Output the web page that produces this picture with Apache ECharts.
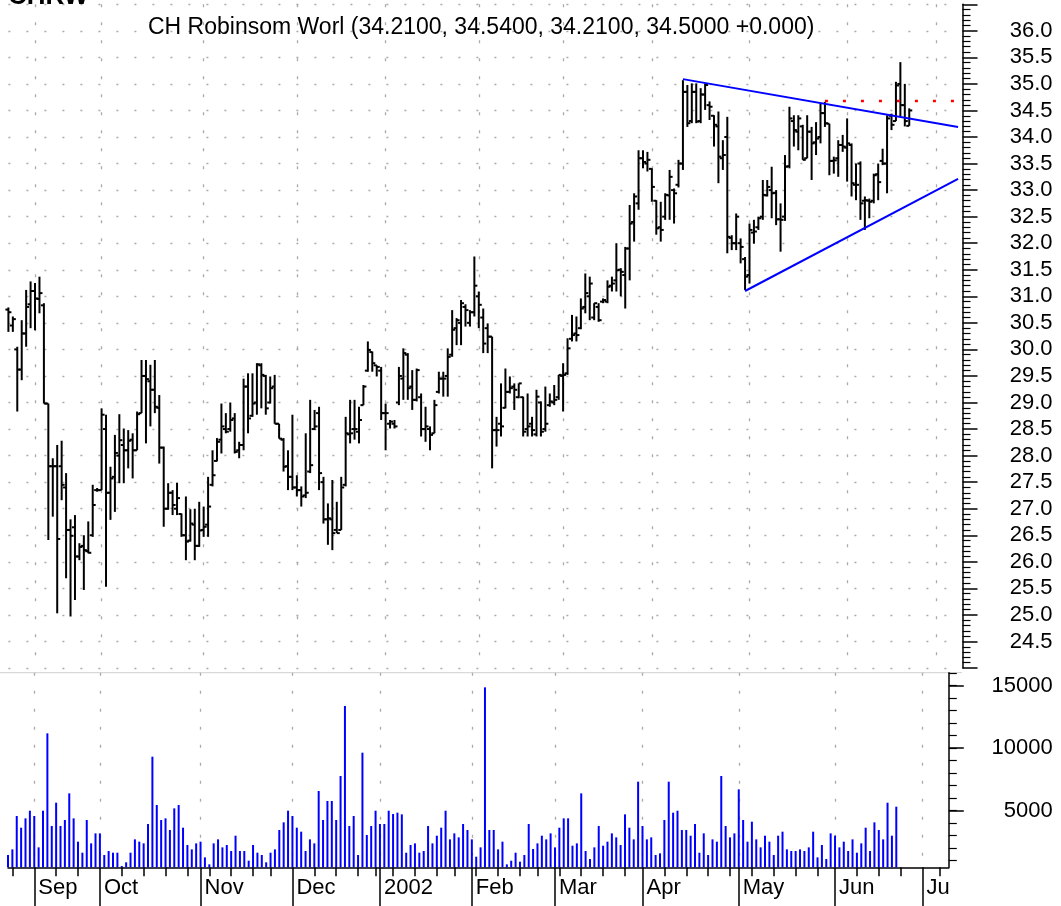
<!DOCTYPE html>
<html>
<head>
<meta charset="utf-8">
<title>CHRW</title>
<script src="https://cdn.jsdelivr.net/npm/echarts@6/dist/echarts.min.js"></script>
<style>
html, body { margin: 0; padding: 0; background: #fff; }
#chart { width: 1061px; height: 906px; }
</style>
</head>
<body>
<div id="chart"></div>
<script>
// daily bars, 24 Aug 2001 .. 21 Jun 2002
var open = [30.75,30.45,30.00,29.62,30.30,30.85,31.10,30.95,30.83,28.98,27.80,27.80,27.80,27.40,26.60,26.65,26.10,26.30,26.20,26.50,
  27.35,27.35,28.50,27.30,27.60,28.00,28.20,28.10,28.30,28.10,28.80,29.50,29.40,29.24,28.90,28.15,27.00,27.30,27.00,26.90,
  26.50,26.40,26.70,26.30,26.60,26.70,27.45,27.90,28.30,28.50,28.50,28.70,28.10,28.20,29.30,28.75,29.00,29.70,29.50,29.00,
  29.30,28.60,28.30,27.80,27.60,27.40,27.35,27.25,27.70,28.50,28.80,27.50,26.80,26.80,26.60,26.60,27.45,28.40,28.50,28.45,
  28.95,29.60,29.95,29.70,29.60,28.80,28.60,28.60,29.00,29.45,29.90,29.30,29.05,29.10,28.50,28.50,28.42,29.20,29.45,29.50,
  29.90,30.40,30.50,30.80,30.50,30.70,31.00,30.60,30.40,30.24,28.48,28.60,28.90,29.20,29.30,29.10,29.10,28.50,28.60,28.40,
  29.00,28.50,28.95,29.00,29.10,29.50,29.55,30.20,30.30,30.40,30.80,31.00,30.60,30.80,30.90,30.90,31.20,31.30,31.50,31.40,
  31.90,32.40,32.75,33.60,33.50,33.40,32.80,32.30,32.50,32.90,33.00,33.10,33.50,34.85,34.30,34.85,34.30,34.80,34.60,34.40,
  34.20,33.60,34.00,32.10,32.00,32.00,31.70,31.40,32.20,32.30,32.50,32.90,33.00,32.95,32.45,32.50,33.45,34.30,34.10,34.20,
  33.60,34.10,33.90,34.00,34.45,34.25,33.55,33.60,33.85,33.80,33.85,33.10,33.50,32.80,32.80,32.80,33.30,33.55,33.50,34.40,
  34.30,35.00,34.60,34.21];
var high = [30.79,30.62,30.05,30.55,31.12,31.28,31.25,31.37,30.87,28.98,27.95,28.20,28.28,27.67,26.80,26.88,26.35,26.50,26.76,27.45,
  27.39,28.89,28.77,27.79,28.39,28.78,28.51,28.48,28.42,28.83,29.80,29.80,29.71,29.80,29.14,28.17,27.48,27.35,27.49,26.91,
  27.23,26.99,27.00,27.13,27.04,27.60,28.10,28.33,28.98,28.80,29.00,28.80,28.26,29.45,29.55,29.55,29.74,29.74,29.52,29.49,
  29.52,28.60,28.33,28.10,28.77,27.63,27.42,28.42,29.05,28.86,28.92,27.60,27.10,27.54,27.13,27.60,28.73,29.05,29.05,28.92,
  29.33,30.15,29.96,29.70,29.67,28.98,28.67,28.67,29.67,30.02,29.93,29.61,29.64,29.17,28.92,28.55,29.05,29.58,29.58,30.02,
  30.74,30.59,30.93,30.85,30.74,31.75,31.09,30.77,30.49,30.24,28.73,29.36,29.64,29.49,29.36,29.36,29.11,29.17,28.73,29.24,
  29.02,29.30,29.17,29.33,29.52,29.74,30.21,30.65,30.62,30.96,31.43,31.37,30.87,30.87,30.96,31.30,31.37,32.00,31.53,31.93,
  32.72,32.94,33.75,33.75,33.72,33.41,32.81,32.78,32.94,33.38,33.03,33.57,35.07,34.98,35.01,35.01,34.92,35.01,34.67,34.41,
  34.48,33.94,34.38,32.15,32.56,32.09,31.74,32.37,32.44,32.50,33.19,33.19,33.44,33.00,32.75,33.66,34.57,34.41,34.41,34.23,
  34.41,34.19,34.28,34.63,34.66,34.25,33.63,33.94,34.04,34.35,33.88,33.50,33.54,32.88,32.84,33.31,33.50,33.78,34.41,34.44,
  35.04,35.41,35.00,34.54];
var low = [30.33,30.33,28.83,29.42,30.05,30.40,30.36,30.68,28.98,26.41,26.85,25.03,27.16,25.69,24.97,25.28,26.03,25.47,26.16,26.47,
  27.32,27.35,25.53,26.79,26.94,27.48,27.48,27.76,27.57,28.10,28.80,28.23,28.55,28.80,27.85,26.66,26.98,26.88,26.88,26.47,
  26.03,26.38,26.03,26.28,26.47,26.47,27.42,27.89,28.04,28.42,28.45,28.04,27.95,28.10,28.42,28.73,28.77,28.89,28.77,28.98,
  28.60,28.32,27.70,27.35,27.35,27.23,27.04,27.20,27.67,28.48,27.35,26.72,26.32,26.22,26.54,26.60,27.42,28.23,28.30,28.23,
  28.95,29.58,29.58,29.49,28.67,28.10,28.51,28.51,28.95,29.05,29.05,28.86,29.02,28.36,28.26,28.10,28.42,29.17,29.11,29.11,
  29.86,30.08,30.08,30.43,30.43,30.62,30.40,29.93,29.93,27.76,28.17,28.36,28.89,29.17,28.86,29.08,28.36,28.36,28.36,28.36,
  28.36,28.45,28.92,28.95,29.05,28.83,29.52,30.15,30.15,30.38,30.68,30.55,30.55,30.52,30.87,30.87,31.09,31.09,31.00,30.77,
  31.30,32.03,32.63,33.41,33.35,32.78,32.16,32.03,32.44,32.44,32.37,33.05,33.38,34.19,34.26,34.26,34.26,34.51,34.32,33.82,
  33.13,33.38,31.81,31.87,31.87,31.62,31.12,31.24,31.99,32.25,32.44,32.88,32.47,32.34,31.84,32.42,33.41,33.82,33.75,33.57,
  33.60,33.19,33.66,33.88,34.19,33.28,33.31,33.25,33.72,33.16,32.88,32.81,32.44,32.25,32.47,32.75,32.81,33.47,32.94,34.13,
  34.30,34.38,34.20,34.21];
var close = [30.70,30.57,29.62,30.30,30.80,31.10,30.96,31.06,28.98,27.80,27.80,26.43,27.45,26.60,26.49,26.10,26.28,26.22,26.17,27.07,
  27.35,28.77,27.30,27.57,28.05,28.29,28.10,28.28,28.10,28.78,29.50,29.44,29.24,28.92,28.15,27.00,27.30,27.07,27.20,26.50,
  26.38,26.72,26.30,26.59,26.66,27.04,27.63,28.26,28.55,28.45,28.67,28.07,28.20,29.30,28.70,28.98,29.72,29.52,28.89,29.27,
  28.60,28.32,27.79,27.60,27.40,27.35,27.23,27.30,27.82,28.55,27.67,26.80,26.82,26.54,26.54,27.40,28.42,28.42,28.50,28.67,
  29.30,29.99,29.74,29.67,28.80,28.80,28.64,28.55,29.50,29.93,29.27,29.05,29.61,28.50,28.55,28.39,28.95,29.45,29.45,29.86,
  30.37,30.55,30.87,30.74,30.70,31.20,30.84,30.11,30.24,28.48,28.48,28.55,29.20,29.27,29.24,29.36,28.45,28.55,28.48,29.11,
  28.45,28.60,29.02,29.05,29.52,29.52,30.02,30.27,30.27,30.77,31.06,31.24,30.87,30.55,30.93,31.18,31.24,31.49,31.46,31.90,
  32.37,32.88,33.60,33.53,33.57,33.06,32.28,32.25,32.91,33.25,32.94,33.50,34.85,34.26,34.85,34.29,34.80,34.98,34.57,34.23,
  33.63,33.66,32.12,32.00,32.50,31.93,31.37,32.25,32.22,32.47,32.91,33.06,32.94,32.45,32.44,33.44,34.35,34.13,34.35,33.57,
  34.10,33.88,33.97,34.45,34.26,33.55,33.56,33.85,33.82,33.88,33.13,33.10,32.75,32.81,32.78,33.28,33.15,33.50,34.35,34.23,
  34.97,34.60,34.30,34.50];
var volume = [1456,1907,4575,3641,4388,5000,4575,2067,5000,11189,3774,5640,3774,4255,6388,4388,2522,1641,4255,2388,
  3188,3188,1456,1774,1641,1641,575,870,1641,2707,2522,2388,3934,9322,5455,4255,4388,3454,5188,5455,
  3641,2255,1907,2388,2522,1268,708,2388,2707,2067,2255,1774,3001,1774,1774,1001,2255,1641,1456,870,
  1641,1907,3454,4068,5000,4575,3641,3321,1774,2707,2388,6575,4255,5775,5775,4255,7775,13376,3774,4575,
  1456,9642,3054,3774,5000,3934,3934,5000,4735,4842,4708,1641,2255,2388,1641,1774,3774,2388,3001,3641,
  5000,2707,3188,2867,3934,3454,2707,1321,2067,14869,3454,3454,1907,2522,708,1001,1641,922,1456,3934,
  1934,2388,3001,2707,3188,2067,3641,4388,4388,2201,2388,6388,1774,1134,2067,3774,2201,2522,3188,2867,
  2255,4708,3641,2707,7321,3774,2707,2867,1456,1588,4255,7321,4842,5000,3454,3454,3001,3934,1641,3188,
  1456,2707,2522,7775,3774,2867,3188,6708,4255,2522,4121,2707,2067,3001,2522,1456,3001,3321,1907,1774,
  1774,1907,1774,2067,3321,1268,2255,1134,3188,3001,2067,2522,1774,2707,1641,2388,3641,1774,4068,3454,
  2707,5640,3001,5321];

// drawn lines: [bar index, price]
var upperLine = [[152, 35.09], [214, 34.19]];
var lowerLine = [[166, 31.10], [214, 33.21]];
var resistLine = [[184, 34.68], [214, 34.68]];

var priceTicks = { min: 24.0, max: 36.5, step: 0.5 };
var volLabels = [5000, 10000, 15000];
var volMinor = [1000,2000,3000,4000,5000,6000,7000,8000,9000,10000,11000,12000,13000,14000,15000,16000];
var monthNames = ['Jan','Feb','Mar','Apr','May','Jun','Jul','Aug','Sep','Oct','Nov','Dec'];

var holidays = ['2001-09-03','2001-09-11','2001-09-12','2001-09-13','2001-09-14','2001-11-22',
  '2001-12-25','2002-01-01','2002-01-21','2002-02-18','2002-03-29','2002-05-27','2002-07-04'];

// trading day axis, runs a little past the data like the original
function tradingDays(count) {
  var out = [];
  var d = new Date(Date.UTC(2001, 7, 24));
  while (out.length < count) {
    var wd = d.getUTCDay();
    var s = d.toISOString().slice(0, 10);
    if (wd !== 0 && wd !== 6 && holidays.indexOf(s) < 0) out.push(s);
    d.setUTCDate(d.getUTCDate() + 1);
  }
  return out;
}
var dates = tradingDays(216);

function isMonthStart(i) {
  return i > 0 && dates[i].slice(5, 7) !== dates[i - 1].slice(5, 7);
}

var weekStarts = [];
for (var i = 1; i < dates.length; i++) {
  var a = new Date(dates[i - 1] + 'T00:00:00Z'), b = new Date(dates[i] + 'T00:00:00Z');
  if (b.getUTCDay() <= a.getUTCDay() || b - a >= 7 * 864e5) weekStarts.push(i);
}
var weekTick = {};
weekStarts.forEach(function (w, k) {
  var next = weekStarts[k + 1];
  if (next === undefined || next - w > 2) weekTick[w] = true;
});

var ohlc = close.map(function (c, i) { return [i, open[i], high[i], low[i], c]; });

function renderOhlc(params, api) {
  var i = api.value(0);
  var pO = api.coord([i, api.value(1)]);
  var pH = api.coord([i, api.value(2)]);
  var pL = api.coord([i, api.value(3)]);
  var pC = api.coord([i, api.value(4)]);
  var x = pO[0];
  var st = { stroke: '#000', lineWidth: 2 };
  return {
    type: 'group',
    children: [
      { type: 'line', shape: { x1: x, y1: pH[1], x2: x, y2: pL[1] }, style: st },
      { type: 'line', shape: { x1: x - 3, y1: pO[1], x2: x, y2: pO[1] }, style: st },
      { type: 'line', shape: { x1: x, y1: pC[1], x2: x + 3, y2: pC[1] }, style: st }
    ]
  };
}

var FONT = '"Liberation Sans", Arial, sans-serif';
var dotted = { color: '#aaaaaa', width: 1.3, type: [2, 16] };
var dottedV = { color: '#aaaaaa', width: 1.3, type: [3, 15] };

var chart = echarts.init(document.getElementById('chart'));
var option = {
  animation: false,
  backgroundColor: '#fff',
  textStyle: { fontFamily: FONT },
  title: [
    {
      text: 'CH Robinsom Worl (34.2100, 34.5400, 34.2100, 34.5000 +0.000)',
      left: 148, top: 16, padding: 0,
      textStyle: { fontSize: 23, fontWeight: 'normal', color: '#000', fontFamily: FONT }
    },
    {
      text: 'CHRW', left: 8, top: -16, padding: 0,
      textStyle: { fontSize: 26, fontWeight: 'bold', color: '#000', fontFamily: FONT }
    }
  ],
  grid: [
    { left: 8.4, right: 98.5, top: 4.25, bottom: 238 },
    { left: 8, right: 112.2, top: 672.7, bottom: 38.7 }
  ],
  xAxis: [
    {
      type: 'category', gridIndex: 0, data: dates, boundaryGap: false,
      axisLine: { show: false }, axisTick: { show: false }, axisLabel: { show: false },
      splitLine: { show: true, interval: function (i) { return isMonthStart(i); }, lineStyle: dottedV }
    },
    {
      type: 'category', gridIndex: 1, data: dates, boundaryGap: false, position: 'bottom',
      axisLine: { show: true, lineStyle: { color: '#000', width: 1.5 } },
      axisTick: { show: true, length: 40, interval: function (i) { return isMonthStart(i); },
        lineStyle: { color: '#000', width: 1.5 } },
      axisLabel: {
        interval: function (i) { return isMonthStart(i); },
        formatter: function (v) {
          var m = +v.slice(5, 7);
          if (m === 1) return v.slice(0, 4);
          if (m === 7) return 'Ju';
          return monthNames[m - 1];
        },
        align: 'left', padding: [0, 0, 0, 4], margin: 10,
        fontSize: 22, color: '#000', fontFamily: FONT
      },
      splitLine: { show: true, interval: function (i) { return isMonthStart(i); }, lineStyle: dottedV }
    },
    {
      type: 'category', gridIndex: 1, data: dates, boundaryGap: false, position: 'bottom',
      axisLine: { show: false },
      axisTick: { show: true, length: 9, interval: function (i) { return !!weekTick[i]; },
        lineStyle: { color: '#000', width: 1.5 } },
      axisLabel: { show: false }, splitLine: { show: false }
    }
  ],
  yAxis: [
    {
      type: 'value', gridIndex: 0, position: 'right',
      min: priceTicks.min, max: priceTicks.max, interval: priceTicks.step,
      axisLine: { show: true, lineStyle: { color: '#000', width: 1.5 } },
      axisTick: { show: true, length: 15, lineStyle: { color: '#000', width: 1.5 } },
      minorTick: { show: true, splitNumber: 5, length: 8, lineStyle: { color: '#000', width: 1.2 } },
      axisLabel: {
        formatter: function (v) { return (v <= 24.0 || v >= 36.5) ? '' : v.toFixed(1); },
        align: 'right', margin: 90, fontSize: 22, color: '#000', fontFamily: FONT
      },
      splitLine: { show: true, lineStyle: dotted }
    },
    {
      type: 'value', gridIndex: 1, position: 'right', min: 472, max: 16040,
      axisLine: { show: true, lineStyle: { color: '#000', width: 1.5 } },
      axisTick: { show: true, length: 15, customValues: volLabels, lineStyle: { color: '#000', width: 1.5 } },
      axisLabel: { customValues: volLabels, align: 'right', margin: 104,
        formatter: function (v) { return String(v); },
        fontSize: 22, color: '#000', fontFamily: FONT },
      splitLine: { show: false }
    },
    {
      type: 'value', gridIndex: 1, position: 'right', min: 472, max: 16040,
      axisLine: { show: false },
      axisTick: { show: true, length: 8, customValues: volMinor, lineStyle: { color: '#000', width: 1.2 } },
      axisLabel: { show: false }, splitLine: { show: false }
    }
  ],
  graphic: [
    { type: 'line', shape: { x1: 0, y1: 672.7, x2: 962, y2: 672.7 },
      style: { stroke: '#d0d0d0', lineWidth: 1 }, silent: true }
  ],
  series: [
    {
      type: 'custom', name: 'CHRW', xAxisIndex: 0, yAxisIndex: 0,
      renderItem: renderOhlc, data: ohlc, encode: { x: 0, y: [1, 2, 3, 4] }, z: 3
    },
    {
      type: 'line', xAxisIndex: 0, yAxisIndex: 0, data: upperLine, symbol: 'none',
      lineStyle: { color: '#0000ff', width: 2 }, z: 4
    },
    {
      type: 'line', xAxisIndex: 0, yAxisIndex: 0, data: lowerLine, symbol: 'none',
      lineStyle: { color: '#0000ff', width: 2 }, z: 4
    },
    {
      type: 'line', xAxisIndex: 0, yAxisIndex: 0, data: resistLine, symbol: 'none',
      lineStyle: { color: '#ff0000', width: 2.5, type: [3, 15] }, z: 4
    },
    {
      type: 'bar', name: 'Volume', xAxisIndex: 1, yAxisIndex: 1, data: volume,
      barWidth: 2, itemStyle: { color: '#0000ff' }
    }
  ]
};
chart.setOption(option);
</script>
</body>
</html>
